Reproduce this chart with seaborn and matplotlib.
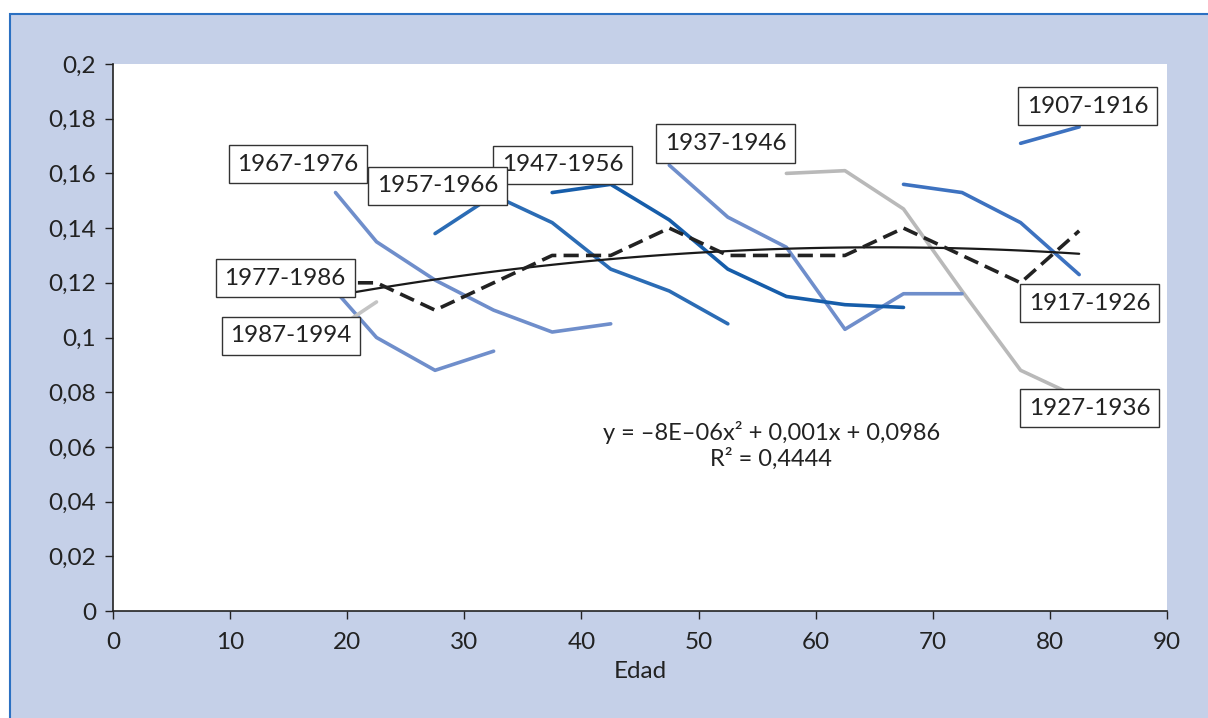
import matplotlib
matplotlib.use("Agg")
import matplotlib.pyplot as plt
from matplotlib.patches import Rectangle
from matplotlib.ticker import FuncFormatter, MultipleLocator
import seaborn as sns
import pandas as pd

# cohort series (age, value)
cohorts = ["1907-1916", "1917-1926", "1927-1936", "1937-1946", "1947-1956",
           "1957-1966", "1967-1976", "1977-1986", "1987-1994"]
ages_1907 = [77.5, 82.5]
vals_1907 = [0.171, 0.177]
ages_1917 = [67.5, 72.5, 77.5, 82.5]
vals_1917 = [0.156, 0.153, 0.142, 0.123]
ages_1927 = [57.5, 62.5, 67.5, 72.5, 77.5, 82.5]
vals_1927 = [0.160, 0.161, 0.147, 0.117, 0.088, 0.078]
ages_1937 = [47.5, 52.5, 57.5, 62.5, 67.5, 72.5]
vals_1937 = [0.163, 0.144, 0.133, 0.103, 0.116, 0.116]
ages_1947 = [37.5, 42.5, 47.5, 52.5, 57.5, 62.5, 67.5]
vals_1947 = [0.153, 0.156, 0.143, 0.125, 0.115, 0.112, 0.111]
ages_1957 = [27.5, 32.5, 37.5, 42.5, 47.5, 52.5]
vals_1957 = [0.138, 0.152, 0.142, 0.125, 0.117, 0.105]
ages_1967 = [19, 22.5, 27.5, 32.5, 37.5, 42.5]
vals_1967 = [0.153, 0.135, 0.121, 0.110, 0.102, 0.105]
ages_1977 = [19, 22.5, 27.5, 32.5]
vals_1977 = [0.117, 0.100, 0.088, 0.095]
ages_1987 = [19, 22.5]
vals_1987 = [0.103, 0.113]

# average across cohorts
avg_ages = [19, 22.5, 27.5, 32.5, 37.5, 42.5, 47.5, 52.5, 57.5, 62.5, 67.5, 72.5, 77.5, 82.5]
avg_vals = [0.12, 0.12, 0.11, 0.12, 0.13, 0.13, 0.14, 0.13, 0.13, 0.13, 0.14, 0.13, 0.12, 0.139]

# label box positions (age, value)
label_pos = {
    "1907-1916": (83.2, 0.1846),
    "1917-1926": (83.4, 0.1126),
    "1927-1936": (83.4, 0.0742),
    "1937-1946": (52.3, 0.1710),
    "1947-1956": (38.4, 0.1631),
    "1957-1966": (27.7, 0.1554),
    "1967-1976": (15.8, 0.1634),
    "1977-1986": (14.7, 0.1217),
    "1987-1994": (15.2, 0.1006),
}

colors = {
    "1907-1916": "#3D72C0",
    "1917-1926": "#3D72C0",
    "1927-1936": "#B9B9B9",
    "1937-1946": "#6F8ECB",
    "1947-1956": "#165DAA",
    "1957-1966": "#2B6CB5",
    "1967-1976": "#6F8ECB",
    "1977-1986": "#6F8ECB",
    "1987-1994": "#C4C4C4",
}

all_ages = [ages_1907, ages_1917, ages_1927, ages_1937, ages_1947,
            ages_1957, ages_1967, ages_1977, ages_1987]
all_vals = [vals_1907, vals_1917, vals_1927, vals_1937, vals_1947,
            vals_1957, vals_1967, vals_1977, vals_1987]

rows = []
for c, a, v in zip(cohorts, all_ages, all_vals):
    for x, y in zip(a, v):
        rows.append({"Cohorte": c, "Edad": x, "Valor": y})
df = pd.DataFrame(rows)
avg_df = pd.DataFrame({"Edad": avg_ages, "Valor": avg_vals})

sns.set_style("ticks")
plt.rcParams["font.family"] = ["Lato", "DejaVu Sans"]

bg = "#C5D0E8"
fig = plt.figure(figsize=(12.08, 7.18), dpi=100, facecolor="white")
fig.patches.append(Rectangle((10 / 1208, -0.01), 1.0, (718 - 14) / 718 + 0.01,
                             transform=fig.transFigure, facecolor=bg,
                             edgecolor="#2B70C2", linewidth=1.5, zorder=-10))
ax = fig.add_axes([113 / 1208, 107 / 718, (1167 - 113) / 1208, (611 - 64) / 718])
ax.set_facecolor("white")

sns.lineplot(data=df, x="Edad", y="Valor", hue="Cohorte", palette=colors,
             linewidth=2.6, legend=False, ax=ax, sort=False)
sns.regplot(data=avg_df, x="Edad", y="Valor", order=2, scatter=False, ci=None,
            line_kws={"color": "#1a1a1a", "linewidth": 1.6}, ax=ax)
sns.lineplot(data=avg_df, x="Edad", y="Valor", color="#222222", linewidth=2.6,
             linestyle=(0, (4.2, 2.0)), ax=ax)

for c, (x, y) in label_pos.items():
    ax.text(x, y, c, ha="center", va="center", fontsize=17.5, color="#222222",
            bbox=dict(boxstyle="square,pad=0.36", facecolor="white",
                      edgecolor="#333333", linewidth=1.0), zorder=5)

ax.text(56.2, 0.0654, "y = \u20138E\u201306x\u00b2 + 0,001x + 0,0986", ha="center",
        va="center", fontsize=17, color="#222222")
ax.text(56.2, 0.0556, "R\u00b2 = 0,4444", ha="center", va="center",
        fontsize=17, color="#222222")

ax.set_xlim(0, 90)
ax.set_ylim(0, 0.2)
ax.xaxis.set_major_locator(MultipleLocator(10))
ax.yaxis.set_major_locator(MultipleLocator(0.02))
ax.yaxis.set_major_formatter(FuncFormatter(lambda v, p: f"{v:.2f}".rstrip("0").rstrip(".").replace(".", ",") if v != 0 else "0"))
ax.tick_params(labelsize=17.5, colors="#222222", length=6, width=1)
ax.tick_params(axis="y", pad=6)
ax.tick_params(axis="x", pad=9)
ax.set_xlabel("Edad", fontsize=17.5, color="#222222", labelpad=6)
ax.set_ylabel("")
sns.despine(ax=ax)
for s in ["left", "bottom"]:
    ax.spines[s].set_color("#222222")
    ax.spines[s].set_linewidth(1.2)

fig.savefig("out.png", dpi=100, facecolor=fig.get_facecolor())
